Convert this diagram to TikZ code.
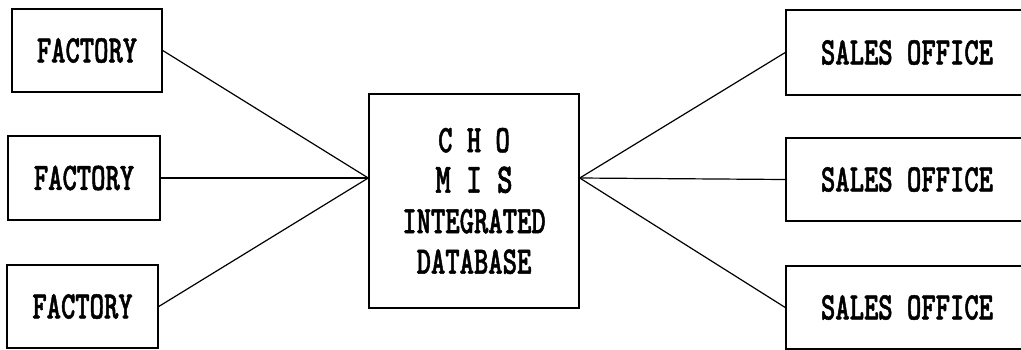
\documentclass[tikz,border=0pt]{standalone}
\usepackage{fontspec}
\newfontfamily\boxfont{lmmonolt10-bold.otf}[FakeStretch=0.7,FakeBold=1.2]
\begin{document}
\begin{tikzpicture}[x=1pt,y=-1pt,
  unit/.style={draw,line width=1.5pt,inner sep=0pt,align=center,
    font=\boxfont\fontsize{39}{40.5}\selectfont},
  link/.style={line width=1.2pt}]
\useasboundingbox (0,0) rectangle (1021,349);
\clip (0,0) rectangle (1021,349);
% factories on the left
\node[unit,minimum width=150pt,minimum height=83pt] (f1) at (87,50.5) {FACTORY};
\node[unit,minimum width=152pt,minimum height=84pt] (f2) at (84,178) {FACTORY};
\node[unit,minimum width=151pt,minimum height=83pt] (f3) at (82.5,306.5) {FACTORY};
% central integrated database
\node[unit,minimum width=210pt,minimum height=214pt] (hub) at (474,201)
  {C H O\\{\fontsize{42}{40.5}\selectfont M I S}\\INTEGRATED\\DATABASE};
% sales offices on the right
\node[unit,minimum width=242pt,minimum height=85pt] (s1) at (907,52.5) {SALES OFFICE};
\node[unit,minimum width=242pt,minimum height=83pt] (s2) at (907,179.5) {SALES OFFICE};
\node[unit,minimum width=242pt,minimum height=83pt] (s3) at (907,307.5) {SALES OFFICE};
% the links meet the hub slightly above its middle
\coordinate (hubL) at (hub.west |- f2.east);
\coordinate (hubR) at (hub.east |- f2.east);
% connectors
\foreach \n in {f1,f2,f3} \draw[link] (\n.east) -- (hubL);
\foreach \n in {s1,s2,s3} \draw[link] (hubR) -- (\n.west);
\end{tikzpicture}
\end{document}
